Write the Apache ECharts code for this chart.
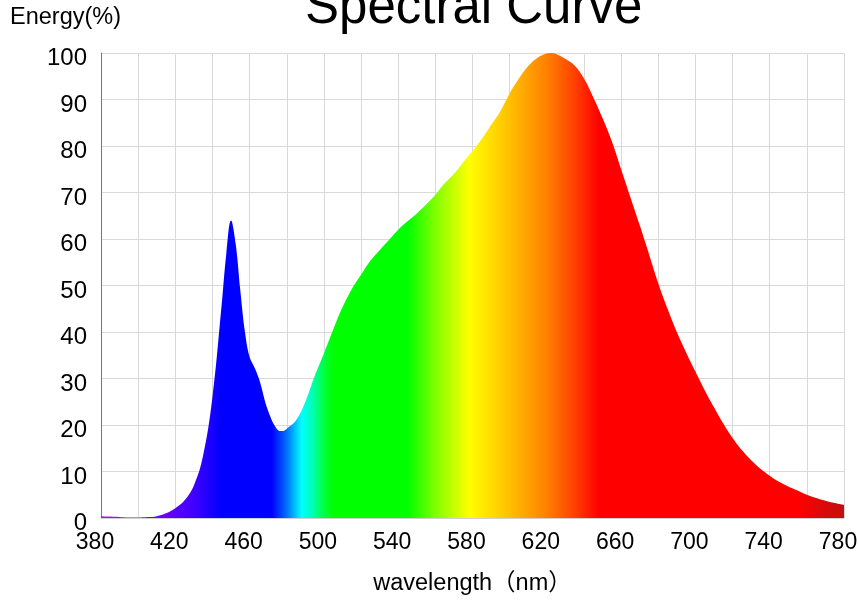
<!DOCTYPE html>
<html>
<head>
<meta charset="utf-8">
<script src="https://cdn.jsdelivr.net/npm/echarts@6/dist/echarts.min.js"></script>
<style>
html,body{margin:0;padding:0;background:#fff;}
#chart{width:858px;height:607px;}
</style>
</head>
<body>
<div id="chart"></div>
<script>
var wavelengths = [380,385,390,395,400,405,410,415,420,425,430,435,440,445,447.5,450,452.5,455,457.5,460,462.5,465,470,475,477.5,480,485,490,495,500,505,510,515,520,525,530,535,540,545,550,555,560,565,570,575,580,585,590,595,600,605,610,615,620,622.5,625,630,635,640,645,650,655,660,665,670,675,680,685,690,695,700,705,710,715,720,725,730,735,740,745,750,755,760,765,770,775,780];
var energy = [0.4,0.3,0.2,0.1,0.1,0.2,0.4,1.0,2.1,3.8,7.0,13.5,26,46,57,64,59,49,40,34.6,32.5,30,23,19,18.7,19.2,21,25,30.5,35.4,40.5,45.3,49.2,52.3,55.3,57.6,59.8,62,63.8,65.5,67.4,69.5,72,74,76.5,78.9,81.5,84.5,87.5,91.3,94.5,97.2,99,99.9,100,99.8,98.7,97.3,94.5,90.5,86,81,75,69,63,56.8,50.5,45,40,35.6,31.5,27.5,23.8,20.3,17.2,14.6,12.4,10.6,9.1,7.8,6.8,5.9,5.0,4.3,3.7,3.2,2.8];
var yTicks = [0,10,20,30,40,50,60,70,80,90,100];
var xLabelTicks = [380,420,460,500,540,580,620,660,700,740,780];

// spectrum colour stops (wavelength, colour)
var spectrumStops = [
  [380,'#a020f0'],[410,'#7000ff'],[430,'#4000ff'],[445,'#0000ff'],[472,'#0000ff'],
  [480,'#0070ff'],[488,'#00ffff'],[493,'#00ffc0'],[500,'#00ff40'],[505,'#00ff00'],
  [545,'#00ff00'],[560,'#80ff00'],[578,'#ffff00'],[600,'#ffc000'],[620,'#ff8000'],
  [635,'#ff4000'],[648,'#ff0000'],[755,'#ff0000'],[780,'#c01010']
];

var FONT = "'Liberation Sans', Arial, 'Noto Sans CJK SC', sans-serif";
var chart = echarts.init(document.getElementById('chart'));
var xMin = 380, xMax = 780;
var data = wavelengths.map(function(w,i){return [w, energy[i]];});
var stops = spectrumStops.map(function(s){return {offset:(s[0]-xMin)/(xMax-xMin), color:s[1]};});

chart.setOption({
  animation:false,
  backgroundColor:'#fff',
  title:[
    {text:'Spectral Curve', left:300, top:-22,
     textStyle:{fontFamily:FONT, fontSize:51, fontWeight:'normal', color:'#000'}},
    {text:'Energy(%)', left:5, top:1,
     textStyle:{fontFamily:FONT, fontSize:23.5, fontWeight:'normal', color:'#000'}}
  ],
  grid:{left:101, right:14, top:53, bottom:89, outerBoundsMode:'none', containLabel:false},
  xAxis:{
    type:'value', min:xMin, max:xMax, interval:20,
    name:'wavelength（nm）', nameLocation:'middle', nameGap:54,
    nameTextStyle:{fontFamily:FONT, fontSize:23.5, color:'#000'},
    axisLine:{show:true, lineStyle:{color:'#d0d0d0'}},
    axisTick:{show:false},
    axisLabel:{margin:13, fontFamily:FONT, fontSize:23, color:'#000',
      formatter:function(v){return xLabelTicks.indexOf(v)>=0 ? '{a|' + v + '}' : '';},
      rich:{a:{fontFamily:FONT, fontSize:23, color:'#000', padding:[0,12,0,0]}}},
    splitLine:{show:true, lineStyle:{color:'#d9d9d9', width:1}}
  },
  yAxis:{
    type:'value', min:0, max:100, interval:10,
    axisLine:{show:true, lineStyle:{color:'#777'}},
    axisTick:{show:false},
    axisLabel:{margin:14, fontFamily:FONT, fontSize:24, color:'#000',
      formatter:function(v){return yTicks.indexOf(v)>=0 ? '{a|' + v + '}' : '';},
      rich:{a:{fontFamily:FONT, fontSize:24, color:'#000', padding:[11,0,0,0]}}},
    splitLine:{show:true, lineStyle:{color:'#d9d9d9', width:1}}
  },
  series:[{
    type:'line', data:data, smooth:0.4, symbol:'none',
    lineStyle:{width:0},
    areaStyle:{opacity:1, color:new echarts.graphic.LinearGradient(0,0,1,0,stops)}
  }]
});
</script>
</body>
</html>
